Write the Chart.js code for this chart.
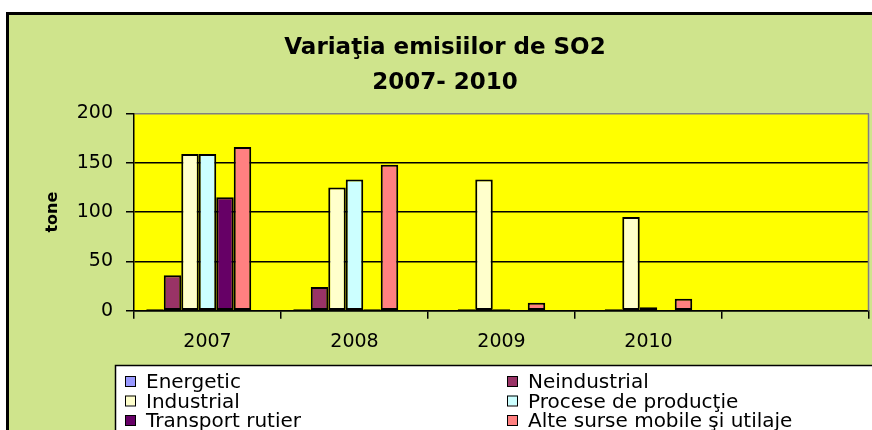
<!DOCTYPE html>
<html>
<head>
<meta charset="utf-8">
<script src="https://cdn.jsdelivr.net/npm/chart.js@4.4.1/dist/chart.umd.min.js"></script>
<style>
  html, body { margin: 0; padding: 0; background: #fff; }
  canvas { display: block; }
</style>
</head>
<body>
<canvas id="so2Chart" width="872" height="430"></canvas>
<script>
/* DATA */
const years = ["2007", "2008", "2009", "2010", ""];
const energetic = [1.5, 1.5, 0, 0, null];
const neindustrial = [36, 24, 1.5, 1.5, null];
const industrial = [159, 125, 133, 95, null];
const procese = [159, 133, 1.5, 3.5, null];
const transport = [115, 1.5, 0, 0, null];
const alteSurse = [166, 148, 8, 12, null];
const emptySeries = [null, null, null, null, null]; // 7th slot, blank in the sheet

const seriesNames = [
  "Energetic",
  "Neindustrial",
  "Industrial",
  "Procese de producţie",
  "Transport rutier",
  "Alte surse mobile şi utilaje",
];
const seriesColors = ["#9999ff", "#993366", "#ffffcc", "#ccffff", "#660066", "#ff8080"];
const titleLines = ["Variaţia emisiilor de SO2", "2007- 2010"];
const yTitle = "tone";
const yMin = 0, yMax = 200, yStep = 50;

const FONT = "'DejaVu Sans', sans-serif";

/* BACKGROUND, TITLE, LEGEND */
const frame = {
  id: "frame",
  beforeDraw(chart) {
    const { ctx, chartArea: a } = chart;
    ctx.save();
    ctx.fillStyle = "#cfe48c";
    ctx.fillRect(7, 13, chart.width, chart.height);
    ctx.strokeStyle = "#000";
    ctx.lineWidth = 3;
    ctx.strokeRect(7.5, 13.5, chart.width + 20, chart.height + 20);
    ctx.fillStyle = "#ffff00";
    ctx.fillRect(a.left, a.top, a.right - a.left, a.bottom - a.top);

    ctx.fillStyle = "#000";
    ctx.font = "bold 23px " + FONT;
    ctx.textAlign = "center";
    ctx.textBaseline = "alphabetic";
    ctx.fillText(titleLines[0], 445, 54);
    ctx.fillText(titleLines[1], 445, 89);
    ctx.restore();
  },
  afterDatasetsDraw(chart) {
    const { ctx, chartArea: a } = chart;
    ctx.save();
    ctx.strokeStyle = "#808080";
    ctx.lineWidth = 1.5;
    ctx.beginPath();
    ctx.moveTo(a.right - 0.5, a.top);
    ctx.lineTo(a.right - 0.5, a.bottom);
    ctx.stroke();
    ctx.restore();
  },
  afterDraw(chart) {
    const { ctx } = chart;
    ctx.save();
    ctx.fillStyle = "#fff";
    ctx.fillRect(115, 365, chart.width, chart.height);
    ctx.strokeStyle = "#000";
    ctx.lineWidth = 1.5;
    ctx.strokeRect(115.5, 365.5, chart.width, chart.height);

    ctx.font = "20px " + FONT;
    ctx.textAlign = "left";
    ctx.textBaseline = "alphabetic";
    const colX = [125, 507];
    seriesNames.forEach((name, i) => {
      const x = colX[i % 2];
      const base = 388 + Math.floor(i / 2) * 19.5;
      ctx.fillStyle = seriesColors[i];
      ctx.fillRect(x, base - 12, 10, 10);
      ctx.strokeStyle = "#000";
      ctx.lineWidth = 1;
      ctx.strokeRect(x + 0.5, base - 11.5, 10, 10);
      ctx.fillStyle = "#000";
      ctx.fillText(name, x + 21, base);
    });
    ctx.restore();
  },
};

/* CHART */
const seriesData = [energetic, neindustrial, industrial, procese, transport, alteSurse, emptySeries];

new Chart(document.getElementById("so2Chart"), {
  type: "bar",
  data: {
    labels: years,
    datasets: seriesData.map((d, i) => ({
      label: seriesNames[i] || "",
      data: d,
      backgroundColor: seriesColors[i] || "transparent",
      borderColor: "#000",
      borderWidth: 2,
      borderSkipped: false,
      categoryPercentage: 0.833,
      barPercentage: 1,
    })),
  },
  options: {
    responsive: false,
    animation: false,
    layout: { padding: { left: 0, right: 3, top: 113.5, bottom: 0 } },
    plugins: {
      legend: { display: false },
      title: { display: false },
      tooltip: { enabled: false },
    },
    scales: {
      x: {
        afterFit: (s) => { s.height = 119.3; },
        grid: {
          drawOnChartArea: false,
          drawTicks: true,
          tickLength: 8,
          tickColor: "#000",
          lineWidth: 1.5,
        },
        border: { color: "#000", width: 1.5 },
        ticks: { color: "#000", padding: 12, font: { family: FONT, size: 19 } },
      },
      y: {
        min: yMin,
        max: yMax,
        afterFit: (s) => { s.width = 134; },
        grid: {
          color: (c) => (c.tick && c.tick.value === yMax ? "#808080" : "#000"),
          lineWidth: 1.5,
          tickLength: 8,
          tickColor: "#000",
        },
        border: { color: "#000", width: 1.5 },
        ticks: { stepSize: yStep, color: "#000", padding: 13, font: { family: FONT, size: 19 } },
        title: {
          display: true,
          text: yTitle,
          color: "#000",
          font: { family: FONT, size: 16, weight: "bold" },
          padding: { top: 43, bottom: 0 },
        },
      },
    },
  },
  plugins: [frame],
});
</script>
</body>
</html>
